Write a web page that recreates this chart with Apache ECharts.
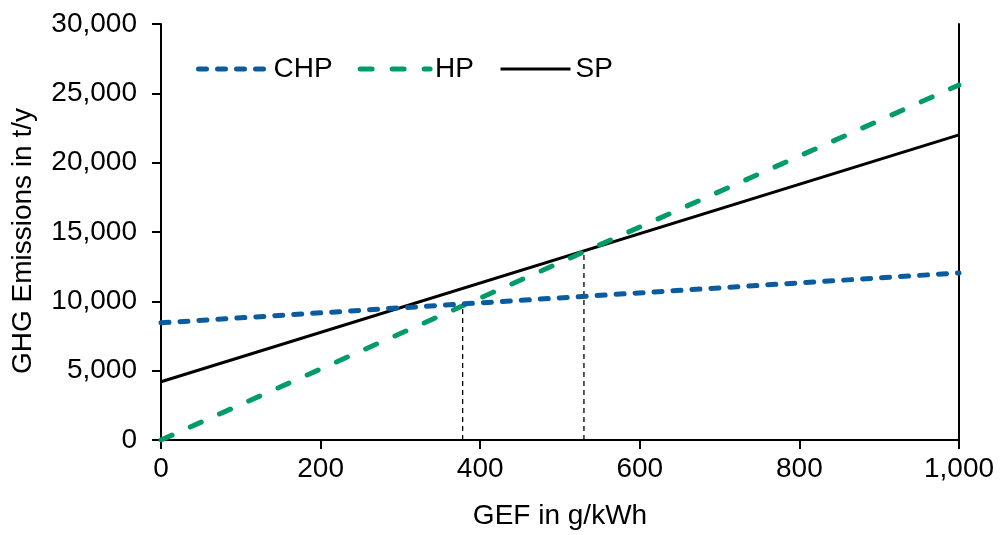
<!DOCTYPE html>
<html>
<head>
<meta charset="utf-8">
<script src="https://cdn.jsdelivr.net/npm/echarts@6/dist/echarts.min.js"></script>
<style>html,body{margin:0;padding:0;background:#fff}#c{width:1001px;height:535px}</style>
</head>
<body>
<div id="c"></div>
<script>
var gef = [0, 1000];
var chp = [8450, 12050];
var hp = [0, 25600];
var sp = [4200, 22000];
var crossX1 = [378, 378];
var crossY1 = [0, 9800];
var crossX2 = [530, 530];
var crossY2 = [0, 13600];
var xTicks = [0, 200, 400, 600, 800, 1000];
var yTicks = [0, 5000, 10000, 15000, 20000, 25000, 30000];

function pairs(xs, ys) { return xs.map(function (x, i) { return [x, ys[i]]; }); }
function fmt(v) { return v.toLocaleString('en-US'); }

var FONT = 'Liberation Sans, Arial, sans-serif';
var FS = 28;
var CHP_STYLE = { color: '#0A5C9E', width: 5, type: [8, 11], cap: 'round' };
var HP_STYLE = { color: '#009B6B', width: 5, type: [12, 20], cap: 'round' };
var SP_STYLE = { color: '#000', width: 3 };
var chart = echarts.init(document.getElementById('c'));
chart.setOption({
  animation: false,
  grid: { left: 161, right: 42, top: 24, bottom: 93 },
  legend: {
    data: [
      { name: 'CHP', lineStyle: CHP_STYLE },
      { name: 'HP', lineStyle: HP_STYLE },
      { name: 'SP', lineStyle: SP_STYLE }
    ],
    left: 191, top: 50,
    itemWidth: 70, itemHeight: 14, itemGap: 25,
    itemStyle: { opacity: 0 },
    textStyle: { fontFamily: FONT, fontSize: FS, color: '#000' }
  },
  xAxis: {
    type: 'value', min: xTicks[0], max: xTicks[xTicks.length - 1], interval: 200,
    name: 'GEF in g/kWh', nameLocation: 'middle', nameGap: 62,
    nameTextStyle: { fontFamily: FONT, fontSize: FS, color: '#000' },
    axisLine: { show: true, onZero: false, lineStyle: { color: '#000', width: 2 } },
    axisTick: { show: true, length: 9, lineStyle: { color: '#000', width: 2 } },
    axisLabel: { fontFamily: FONT, fontSize: FS, color: '#000', margin: 15, formatter: fmt },
    splitLine: { show: false }
  },
  yAxis: [{
    type: 'value', min: yTicks[0], max: yTicks[yTicks.length - 1], interval: 5000,
    name: 'GHG Emissions in t/y', nameLocation: 'middle', nameGap: 124,
    nameTextStyle: { fontFamily: FONT, fontSize: FS, color: '#000', padding: [0, 18, 0, 0] },
    axisLine: { show: true, lineStyle: { color: '#000', width: 2 } },
    axisTick: { show: true, length: 9, lineStyle: { color: '#000', width: 2 } },
    axisLabel: { fontFamily: FONT, fontSize: FS, color: '#000', margin: 24, formatter: fmt },
    splitLine: { show: false }
  }, {
    type: 'value', position: 'right', min: 0, max: 30000, interval: 5000,
    axisLine: { show: true, lineStyle: { color: '#000', width: 2 } },
    axisTick: { show: false }, axisLabel: { show: false }, splitLine: { show: false }
  }],
  series: [
    { name: 'crossHP_CHP', type: 'line', data: pairs(crossX1, crossY1), symbol: 'none', silent: true,
      lineStyle: { color: '#000', width: 1.3, type: [5, 4] }, z: 1 },
    { name: 'crossHP_SP', type: 'line', data: pairs(crossX2, crossY2), symbol: 'none', silent: true,
      lineStyle: { color: '#000', width: 1.3, type: [5, 4] }, z: 1 },
    { name: 'SP', type: 'line', data: pairs(gef, sp), symbol: 'none', itemStyle: { color: '#000' },
      lineStyle: SP_STYLE, z: 2 },
    { name: 'HP', type: 'line', data: pairs(gef, hp), symbol: 'none', itemStyle: { color: '#009B6B' },
      lineStyle: HP_STYLE, z: 3 },
    { name: 'CHP', type: 'line', data: pairs(gef, chp), symbol: 'none', itemStyle: { color: '#0A5C9E' },
      lineStyle: CHP_STYLE, z: 4 }
  ]
});
</script>
</body>
</html>
